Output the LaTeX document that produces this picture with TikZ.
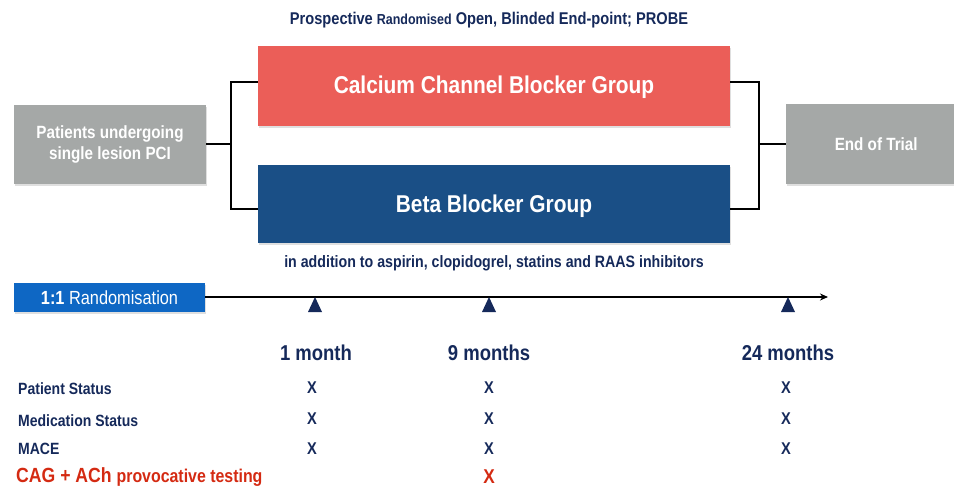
\documentclass[tikz,border=0pt]{standalone}
\usepackage{fontspec}
\setmainfont[FakeStretch=0.86]{Liberation Sans}
\usetikzlibrary{arrows.meta,shadows}
\definecolor{cred}{HTML}{EB5E58}
\definecolor{cblue}{HTML}{1A4F86}
\definecolor{cgray}{HTML}{A5A8A7}
\definecolor{crand}{HTML}{0E67C4}
\definecolor{navy}{HTML}{15295A}
\definecolor{xred}{HTML}{D42A12}
\begin{document}
\begin{tikzpicture}[x=1pt,y=-1pt,
  box/.style={draw=none,minimum width=#1,inner sep=0pt,align=center,text=white,font=\bfseries,drop shadow={shadow xshift=1pt,shadow yshift=-2pt,opacity=0.25}},
  conn/.style={line width=1.4pt,black},
  tri/.style={fill=navy,draw=none},
  lbl/.style={text=navy,font=\bfseries,anchor=west,inner sep=0pt},
  xmark/.style={text=navy,font=\bfseries\fontsize{17}{17}\selectfont,inner sep=0pt},
  month/.style={text=navy,font=\bfseries\fontsize{21.5}{21.5}\selectfont,inner sep=0pt}
]
\useasboundingbox (0,0) rectangle (954,487);
% title
\node[text=navy,font=\bfseries\fontsize{17}{17}\selectfont,inner sep=0pt] (title) at (489,20) {Prospective {\fontsize{14.5}{14.5}\selectfont Randomised} Open, Blinded End-point; PROBE};
\coordinate (lt) at (231,82); \coordinate (lb) at (231,209); \coordinate (lm) at (231,144);
\coordinate (rt) at (759,82); \coordinate (rb) at (759,209); \coordinate (rm) at (759,144);
% boxes
\node[box=472pt,minimum height=79pt,fill=cred,font=\bfseries\fontsize{24.3}{24.3}\selectfont,text height=16pt,text depth=0pt] (ccb) at (494,86) {Calcium Channel Blocker Group};
\node[box=472pt,minimum height=78pt,fill=cblue,font=\bfseries\fontsize{24.3}{24.3}\selectfont,text height=16pt,text depth=0pt] (bb) at (494,204) {Beta Blocker Group};
\node[box=192pt,minimum height=79pt,fill=cgray,font=\bfseries\fontsize{17.7}{21}\selectfont] (pat) at (110,144.5) {Patients undergoing\\single lesion PCI};
\node[box=170pt,minimum height=80pt,fill=cgray,anchor=west,font=\bfseries\fontsize{17.7}{21}\selectfont,text height=12pt,text depth=0pt] (end) at (786,144) {\hspace*{10pt}End of Trial};
\draw[conn] (pat.east |- lm) -- (lm);
\draw[conn] (ccb.west |- lt) -- (lt) -- (lb) -- (bb.west |- lb);
\draw[conn] (ccb.east |- rt) -- (rt) -- (rb) -- (bb.east |- rb);
\draw[conn] (rm) -- (end.west |- rm);
\node[text=navy,font=\bfseries\fontsize{16.5}{16.5}\selectfont,inner sep=0pt] (add) at (494,263) {in addition to aspirin, clopidogrel, statins and RAAS inhibitors};
% timeline
\node[box=191pt,minimum height=29pt,fill=crand,font=\fontsize{19}{19}\selectfont] (rand) at (109.5,297.5) {\textbf{1:1} Randomisation};
\coordinate (tend) at (828,297);
\draw[line width=1.3pt,-{Stealth[length=8pt,width=7pt]}] (rand.east |- tend) -- (tend);
\foreach \x in {315,489,788}{
  \draw[tri] (\x-7,312) -- (\x,297) -- (\x+7,312) -- cycle;
}
\node[month] (m1) at (316,353) {1 month};
\node[month] (m9) at (489,353) {9 months};
\node[month] (m24) at (788,353) {24 months};
% rows
\node[lbl,font=\bfseries\fontsize{16.3}{16.3}\selectfont] (ps) at (18,389) {Patient Status};
\node[lbl,font=\bfseries\fontsize{16.3}{16.3}\selectfont] (ms) at (18,421) {Medication Status};
\node[lbl,font=\bfseries\fontsize{16.3}{16.3}\selectfont] (mace) at (18,449) {MACE};
\node[lbl,text=xred,font=\bfseries\fontsize{20.5}{20.5}\selectfont] (cag) at (16,477) {CAG + ACh {\fontsize{18.5}{18.5}\selectfont provocative testing}};
\foreach \y/\r in {388/a,419/b,449/c}{
  \node[xmark] (x1\r) at (312,\y) {X};
  \node[xmark] (x9\r) at (489,\y) {X};
  \node[xmark] (x24\r) at (786,\y) {X};
}
\node[xmark,text=xred,font=\bfseries\fontsize{20}{20}\selectfont] (xr) at (489,477) {X};
\end{tikzpicture}
\end{document}
